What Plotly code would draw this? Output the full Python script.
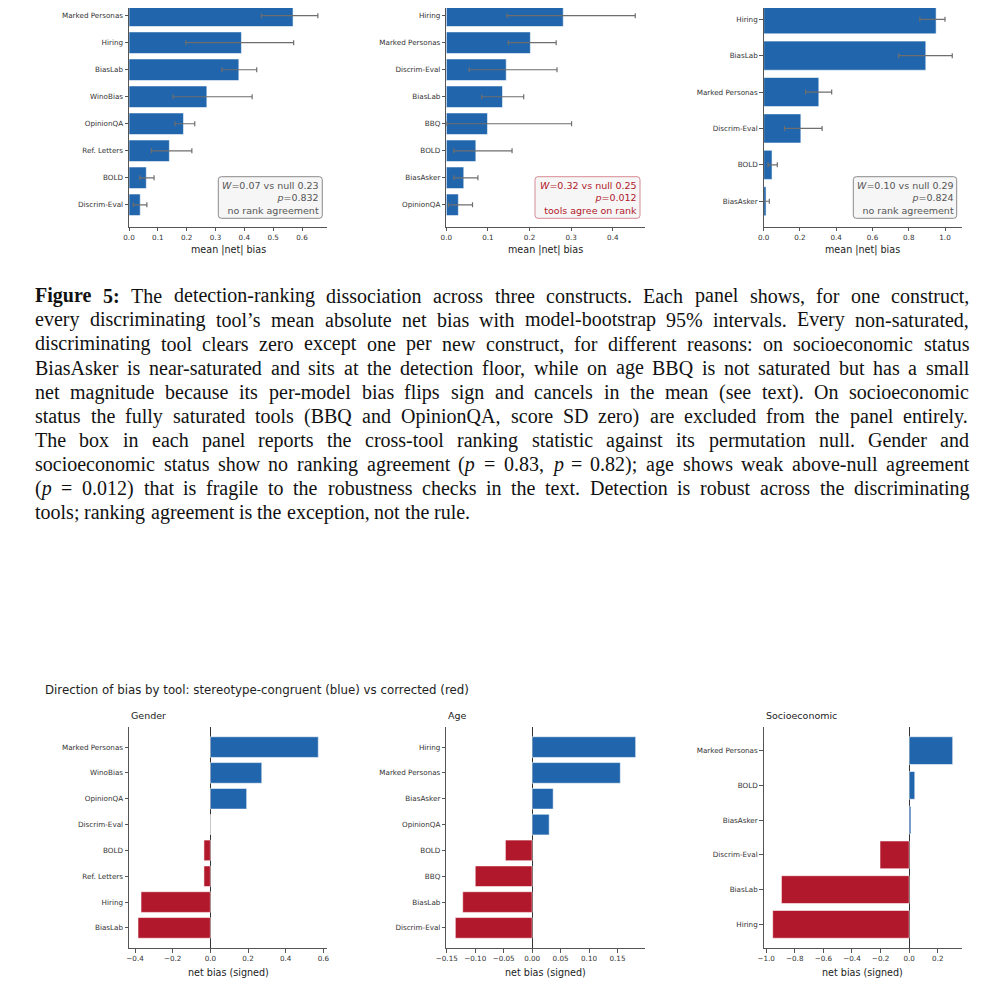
import plotly.graph_objects as go

W, H = 1004, 983
OFF = 8  # page body margin around the plot div
BLUE = '#2166ac'
RED = '#b2182b'

# --- top row: mean |net| bias with model-bootstrap 95% intervals ---
gender_tools = ['Marked Personas', 'Hiring', 'BiasLab', 'WinoBias', 'OpinionQA', 'Ref. Letters', 'BOLD', 'Discrim-Eval']
gender_mean = [0.569, 0.390, 0.381, 0.270, 0.189, 0.140, 0.060, 0.039]
gender_lo = [0.459, 0.197, 0.322, 0.153, 0.160, 0.078, 0.037, 0.015]
gender_hi = [0.655, 0.571, 0.443, 0.427, 0.228, 0.218, 0.087, 0.062]

age_tools = ['Hiring', 'Marked Personas', 'Discrim-Eval', 'BiasLab', 'BBQ', 'BOLD', 'BiasAsker', 'OpinionQA']
age_mean = [0.281, 0.202, 0.144, 0.135, 0.099, 0.071, 0.042, 0.029]
age_lo = [0.146, 0.149, 0.055, 0.085, 0.001, 0.018, 0.018, 0.005]
age_hi = [0.454, 0.264, 0.266, 0.186, 0.301, 0.158, 0.076, 0.063]

ses_tools = ['Hiring', 'BiasLab', 'Marked Personas', 'Discrim-Eval', 'BOLD', 'BiasAsker']
ses_mean = [0.951, 0.894, 0.304, 0.205, 0.046, 0.013]
ses_lo = [0.861, 0.744, 0.231, 0.115, 0.024, 0.000]
ses_hi = [1.000, 1.040, 0.375, 0.322, 0.075, 0.031]

# ranking statistic vs permutation null
box_w = [0.07, 0.32, 0.10]
box_null = [0.23, 0.25, 0.29]
box_p = [0.832, 0.012, 0.824]
box_msg = ['no rank agreement', 'tools agree on rank', 'no rank agreement']
box_agree = [False, True, False]

# --- bottom row: signed net bias ---
g_sign_tools = ['Marked Personas', 'WinoBias', 'OpinionQA', 'Discrim-Eval', 'BOLD', 'Ref. Letters', 'Hiring', 'BiasLab']
g_net = [0.573, 0.273, 0.193, 0.0, -0.034, -0.034, -0.368, -0.384]

a_sign_tools = ['Hiring', 'Marked Personas', 'BiasAsker', 'OpinionQA', 'BOLD', 'BBQ', 'BiasLab', 'Discrim-Eval']
a_net = [0.182, 0.155, 0.037, 0.030, -0.047, -0.100, -0.122, -0.135]

s_sign_tools = ['Marked Personas', 'BOLD', 'BiasAsker', 'Discrim-Eval', 'BiasLab', 'Hiring']
s_net = [0.304, 0.039, 0.012, -0.204, -0.893, -0.954]

construct_names = ['Gender', 'Age', 'Socioeconomic']

caption_lines = [
    "**Figure** **5:** The detection-ranking dissociation across three constructs. Each panel shows, for one construct,",
    "every discriminating tool’s mean absolute net bias with model-bootstrap 95% intervals. Every non-saturated,",
    "discriminating tool clears zero except one per new construct, for different reasons: on socioeconomic status",
    "BiasAsker is near-saturated and sits at the detection floor, while on age BBQ is not saturated but has a small",
    "net magnitude because its per-model bias flips sign and cancels in the mean (see text). On socioeconomic",
    "status the fully saturated tools (BBQ and OpinionQA, score SD zero) are excluded from the panel entirely.",
    "The box in each panel reports the cross-tool ranking statistic against its permutation null. Gender and",
    "socioeconomic status show no ranking agreement (*p* = 0.83, *p* = 0.82); age shows weak above-null agreement",
    "(*p* = 0.012) that is fragile to the robustness checks in the text. Detection is robust across the discriminating",
    "tools; ranking agreement is the exception, not the rule.",
]


# positions below are page pixels; the div sits OFF px in from the page corner
def px(x):
    return (x - OFF) / W


def py(y):
    return 1 - (y - OFF) / H


col_x = [(129.0, 327.3), (446.3, 644.7), (763.7, 961.7)]
top_y = (OFF, 226.7)
bot_y = (726.7, 948.3)

fig = go.Figure()
layout = {}
annotations = []
shapes = []

tickfont = dict(family='DejaVu Sans', size=7.2, color='#333333')


def axis_style(**kw):
    d = dict(showline=True, linecolor='#555555', linewidth=1, ticks='outside', ticklen=3.5,
             tickwidth=0.8, tickcolor='#555555', showgrid=False, zeroline=False, tickfont=tickfont,
             automargin=False)
    d.update(kw)
    return d


top_panels = [
    (gender_tools, gender_mean, gender_lo, gender_hi, 0.1),
    (age_tools, age_mean, age_lo, age_hi, 0.1),
    (ses_tools, ses_mean, ses_lo, ses_hi, 0.2),
]

for i, (tools, mean, lo, hi, dt) in enumerate(top_panels):
    k = i + 1
    xa, ya = ('x', 'y') if k == 1 else (f'x{k}', f'y{k}')
    fig.add_trace(go.Bar(
        x=mean, y=tools, orientation='h', xaxis=xa, yaxis=ya, width=0.8,
        marker=dict(color=BLUE, line=dict(color='rgba(255,255,255,0.7)', width=0.8)),
        error_x=dict(type='data', symmetric=False,
                     array=[h - m for h, m in zip(hi, mean)],
                     arrayminus=[m - l for m, l in zip(mean, lo)],
                     color='#6e6e6e', thickness=1.2, width=2.5),
    ))
    n = len(tools)
    pad_top = 0.285 if n == 8 else 0.31
    pad_bot = 0.81 if n == 8 else 0.70
    x0, x1 = col_x[i]
    layout['xaxis' if k == 1 else f'xaxis{k}'] = axis_style(
        domain=[px(x0), px(x1)], anchor=ya, range=[0, max(hi) * 1.05], dtick=dt, tick0=0,
        tickformat='.1f')
    layout['yaxis' if k == 1 else f'yaxis{k}'] = axis_style(
        domain=[py(top_y[1]), py(top_y[0])], anchor=xa, type='category',
        categoryorder='array', categoryarray=tools, range=[n - 1 + pad_bot, -pad_top])
    annotations.append(dict(x=px((x0 + x1) / 2), y=py(250), xref='paper', yref='paper',
                            text='mean |net| bias', showarrow=False, xanchor='center', yanchor='middle',
                            font=dict(family='DejaVu Sans', size=9.6, color='#222222')))

    # statistic box
    bx0, bx1 = [(218.3, 322.3), (535.0, 640.0), (853.3, 956.7)][i]
    by0, by1 = 176.7, 218.3
    r = 3.0
    edge = '#d88a94' if box_agree[i] else '#8a8a8a'
    txtc = RED if box_agree[i] else '#555555'
    path = (f'M {px(bx0 + r)},{py(by0)} L {px(bx1 - r)},{py(by0)} Q {px(bx1)},{py(by0)} {px(bx1)},{py(by0 + r)} '
            f'L {px(bx1)},{py(by1 - r)} Q {px(bx1)},{py(by1)} {px(bx1 - r)},{py(by1)} '
            f'L {px(bx0 + r)},{py(by1)} Q {px(bx0)},{py(by1)} {px(bx0)},{py(by1 - r)} '
            f'L {px(bx0)},{py(by0 + r)} Q {px(bx0)},{py(by0)} {px(bx0 + r)},{py(by0)} Z')
    shapes.append(dict(type='path', path=path, xref='paper', yref='paper',
                       fillcolor='rgba(245,245,245,0.92)', line=dict(color=edge, width=1)))
    annotations.append(dict(
        x=px(bx1 - 3), y=py((by0 + by1) / 2), xref='paper', yref='paper', xanchor='right', yanchor='middle',
        align='right', showarrow=False, borderpad=0, borderwidth=0,
        text=f'<i>W</i>={box_w[i]:.2f} vs null {box_null[i]:.2f}<br><i>p</i>={box_p[i]:.3f}<br>{box_msg[i]}',
        font=dict(family='DejaVu Sans', size=9.5, color=txtc)))

bottom_panels = [
    (g_sign_tools, g_net, 0.2, '.1f'),
    (a_sign_tools, a_net, 0.05, '.2f'),
    (s_sign_tools, s_net, 0.2, '.1f'),
]

for i, (tools, net, dt, fmt) in enumerate(bottom_panels):
    k = i + 4
    xa, ya = f'x{k}', f'y{k}'
    fig.add_trace(go.Bar(
        x=net, y=tools, orientation='h', xaxis=xa, yaxis=ya, width=0.8,
        marker=dict(color=[BLUE if v >= 0 else RED for v in net],
                    line=dict(color='rgba(255,255,255,0.7)', width=0.8)),
    ))
    n = len(tools)
    span = max(net) - min(net)
    x0, x1 = col_x[i]
    pad = 0.79 if n == 8 else 0.69
    layout[f'xaxis{k}'] = axis_style(
        domain=[px(x0), px(x1)], anchor=ya,
        range=[min(net) - 0.05 * span, max(net) + 0.05 * span], dtick=dt, tick0=0, tickformat=fmt,
        zeroline=True, zerolinecolor='#333333', zerolinewidth=1)
    layout[f'yaxis{k}'] = axis_style(
        domain=[py(bot_y[1]), py(bot_y[0])], anchor=xa, type='category',
        categoryorder='array', categoryarray=tools, range=[n - 1 + pad, -pad])
    annotations.append(dict(x=px((x0 + x1) / 2), y=py(972.7), xref='paper', yref='paper',
                            text='net bias (signed)', showarrow=False, xanchor='center', yanchor='middle',
                            font=dict(family='DejaVu Sans', size=9.6, color='#222222')))
    annotations.append(dict(x=px(x0), y=py(715), xref='paper', yref='paper',
                            text=construct_names[i], showarrow=False, xanchor='left', yanchor='middle',
                            font=dict(family='DejaVu Sans', size=9.5, color='#222222')))

annotations.append(dict(x=px(43.3), y=py(690), xref='paper', yref='paper',
                        text='Direction of bias by tool: stereotype-congruent (blue) vs corrected (red)',
                        showarrow=False, xanchor='left', yanchor='middle',
                        font=dict(family='DejaVu Sans', size=11.8, color='#222222')))

# caption, justified word by word with Times metrics
TR = dict(zip('abcdefghijklmnopqrstuvwxyz',
              [444, 500, 444, 500, 444, 333, 500, 500, 278, 278, 500, 278, 778, 500, 500, 500, 500, 333, 389, 278,
               500, 500, 722, 500, 500, 444]))
TR.update(zip('ABCDEFGHIJKLMNOPQRSTUVWXYZ',
              [722, 667, 667, 722, 611, 556, 722, 722, 333, 389, 722, 611, 889, 722, 722, 556, 722, 667, 556, 611,
               722, 722, 944, 722, 722, 611]))
TR.update({c: 500 for c in '0123456789'})
TR.update({' ': 250, ',': 250, '.': 250, ':': 278, ';': 278, '-': 333, '(': 333, ')': 333, '%': 833,
           '’': 333, '=': 564})
TB = {'F': 611, 'i': 278, 'g': 500, 'u': 556, 'r': 444, 'e': 444, '5': 500, ':': 333}

cap_size = 20
cap_left, cap_right = 35.0, 969.3
base0, step = 302.5, 24.08


def word_info(tok):
    if tok.startswith('**'):
        plain = tok.strip('*')
        return f'<b>{plain}</b>', sum(TB.get(c, 500) for c in plain) * cap_size / 1000
    plain = tok.replace('*', '')
    return tok.replace('*p*', '<i>p</i>'), sum(TR.get(c, 500) for c in plain) * cap_size / 1000


for li, line in enumerate(caption_lines):
    words = [word_info(t) for t in line.split(' ')]
    total = sum(w for _, w in words)
    if li < len(caption_lines) - 1:
        gap = (cap_right - cap_left - total) / (len(words) - 1)
    else:
        gap = 0.25 * cap_size
    xpos = cap_left
    yc = base0 + li * step - 0.34 * cap_size
    for markup, w in words:
        annotations.append(dict(x=px(xpos), y=py(yc), xref='paper', yref='paper', text=markup,
                                showarrow=False, xanchor='left', yanchor='middle', borderpad=0, borderwidth=0,
                                font=dict(family='Liberation Serif', size=cap_size, color='#111111')))
        xpos += w + gap

fig.update_layout(
    width=W, height=H, margin=dict(l=0, r=0, t=0, b=0, autoexpand=False),
    paper_bgcolor='white', plot_bgcolor='white', showlegend=False, bargap=0.2,
    font=dict(family='DejaVu Sans', color='#222222'),
    annotations=annotations, shapes=shapes, **layout,
)

fig.write_html('out.html')
